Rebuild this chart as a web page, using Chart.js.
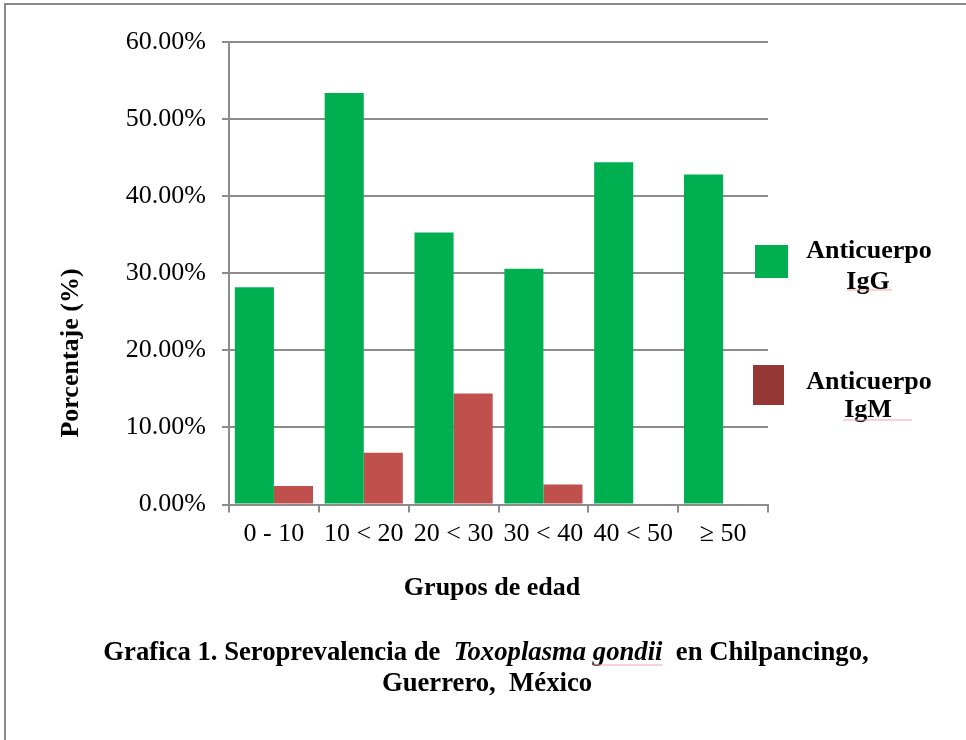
<!DOCTYPE html>
<html>
<head>
<meta charset="utf-8">
<script src="https://cdn.jsdelivr.net/npm/chart.js@4.4.1/dist/chart.umd.min.js"></script>
<style>
  html, body { margin: 0; padding: 0; background: #fff; }
  #wrap { width: 966px; height: 740px; position: relative; }
</style>
</head>
<body>
<div id="wrap"><canvas id="seroChart" width="966" height="740"></canvas></div>
<script>
// data
var categories = ["0 - 10", "10 < 20", "20 < 30", "30 < 40", "40 < 50", "\u2265 50"];
var igG = [28.2, 53.4, 35.3, 30.6, 44.4, 42.8];
var igM = [2.4, 6.7, 14.4, 2.6, 0, 0];
var yTicks = [0, 10, 20, 30, 40, 50, 60];
var seriesNames = ["Anticuerpo IgG", "Anticuerpo IgM"];

var serif = "'Liberation Serif', 'DejaVu Serif', serif";
var gridGray = '#8c8c8c';

// axis titles, legend, caption and page frame drawn by hand
var extras = {
    id: 'extras',
    afterDraw: function(chart) {
        var ctx = chart.ctx;
        ctx.save();

        // frame (top + left only, the rest is cropped off)
        ctx.strokeStyle = '#8a8a8a';
        ctx.lineWidth = 2;
        ctx.beginPath();
        ctx.moveTo(5, 740);
        ctx.lineTo(5, 4);
        ctx.lineTo(966, 4);
        ctx.stroke();

        ctx.fillStyle = '#000';
        ctx.font = 'bold 26px ' + serif;
        ctx.textAlign = 'center';
        ctx.textBaseline = 'middle';

        // axis titles
        ctx.fillText('Grupos de edad', 492, 588);
        ctx.save();
        ctx.translate(71, 353);
        ctx.rotate(-Math.PI / 2);
        ctx.fillText('Porcentaje (%)', 0, 0);
        ctx.restore();

        // legend
        var n0 = chart.data.datasets[0].label.split(' ');
        var n1 = chart.data.datasets[1].label.split(' ');
        ctx.fillText(n0[0], 869, 251);
        ctx.fillText(n0[1], 868, 282);
        ctx.fillText(n1[0], 869, 382);
        ctx.fillText(n1[1], 868, 410);

        ctx.fillStyle = '#00B050';
        ctx.fillRect(755, 245, 33, 33);
        ctx.fillStyle = '#953735';
        ctx.fillRect(753, 365, 31, 40);

        // spell-check squiggles
        ctx.strokeStyle = '#f2a6a6';
        ctx.lineWidth = 1;
        ctx.beginPath();
        ctx.moveTo(847, 290); ctx.lineTo(892, 290);
        ctx.moveTo(843, 420); ctx.lineTo(912, 420);
        ctx.stroke();

        // caption
        ctx.fillStyle = '#000';
        var parts = [
            ['bold 26.7px ' + serif, 'Grafica 1. Seroprevalencia de  '],
            ['italic bold 26.7px ' + serif, 'Toxoplasma gondii'],
            ['bold 26.7px ' + serif, '  en Chilpancingo,']
        ];
        var total = 0;
        parts.forEach(function(p) { ctx.font = p[0]; total += ctx.measureText(p[1]).width; });
        var x = 486 - total / 2;
        ctx.textAlign = 'left';
        ctx.textBaseline = 'alphabetic';
        parts.forEach(function(p, i) {
            ctx.font = p[0];
            ctx.fillText(p[1], x, 660);
            if (i === 1) {
                var w1 = ctx.measureText('Toxoplasma ').width;
                var w2 = ctx.measureText(p[1]).width;
                ctx.beginPath();
                ctx.moveTo(x + w1, 665); ctx.lineTo(x + w2, 665);
                ctx.stroke();
            }
            x += ctx.measureText(p[1]).width;
        });
        ctx.font = 'bold 26.7px ' + serif;
        ctx.textAlign = 'center';
        ctx.fillText('Guerrero,  M\u00e9xico', 487, 691);

        ctx.restore();
    }
};

var ctx = document.getElementById('seroChart').getContext('2d');

var myChart = new Chart(ctx, {
    type: 'bar',
    data: {
        labels: categories,
        datasets: [
            {
                label: seriesNames[0],
                data: igG,
                backgroundColor: '#00B050',
                barPercentage: 1,
                categoryPercentage: 0.87
            },
            {
                label: seriesNames[1],
                data: igM,
                backgroundColor: '#C0504D',
                barPercentage: 1,
                categoryPercentage: 0.87
            }
        ]
    },
    options: {
        responsive: false,
        animation: false,
        layout: {
            padding: { top: 42, right: 198, bottom: 0, left: 0 }
        },
        scales: {
            x: {
                afterFit: function(scale) { scale.height = 235.5; },
                grid: {
                    offset: true,
                    drawOnChartArea: false,
                    color: gridGray,
                    lineWidth: 2,
                    tickLength: 8
                },
                border: { color: gridGray, width: 2 },
                ticks: {
                    color: '#000',
                    padding: 6,
                    maxRotation: 0,
                    font: { family: serif, size: 26 }
                }
            },
            y: {
                min: 0,
                max: 60,
                afterFit: function(scale) { scale.width = 229; },
                afterBuildTicks: function(scale) {
                    scale.ticks = yTicks.map(function(v) { return { value: v }; });
                },
                grid: {
                    color: gridGray,
                    lineWidth: 2,
                    tickLength: 7
                },
                border: { color: gridGray, width: 2 },
                ticks: {
                    color: '#000',
                    padding: 16,
                    font: { family: serif, size: 26 },
                    callback: function(value) {
                        return value.toFixed(2) + '%';
                    }
                }
            }
        },
        plugins: {
            legend: { display: false },
            tooltip: { enabled: false }
        }
    },
    plugins: [extras]
});
</script>
</body>
</html>
